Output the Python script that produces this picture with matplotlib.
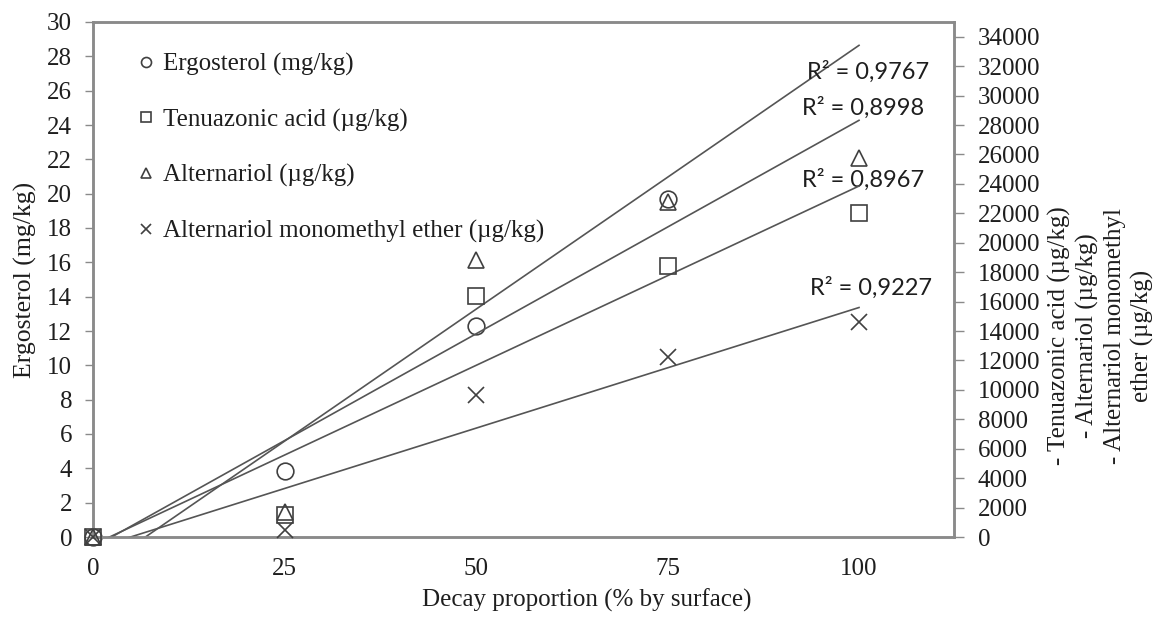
import numpy as np
import matplotlib
matplotlib.use("Agg")
import matplotlib.pyplot as plt

# ---- data ----
decay = [0, 25, 50, 75, 100]
ergosterol_mgkg = [0, 3.84, 12.3, 19.7, 30.5]           # left axis (last point is above the axis range)
tenuazonic_ugkg = [0, 1500, 16380, 18410, 22020]         # right axis
alternariol_ugkg = [0, 1700, 18820, 22760, 25750]        # right axis
ame_ugkg = [0, 470, 9650, 12250, 14610]                  # right axis

legend_labels = ["Ergosterol (mg/kg)", "Tenuazonic acid (\u00b5g/kg)",
                 "Alternariol (\u00b5g/kg)", "Alternariol monomethyl ether (\u00b5g/kg)"]
r2_labels = ["R\u00b2 = 0,9767", "R\u00b2 = 0,8998", "R\u00b2 = 0,8967", "R\u00b2 = 0,9227"]
x_ticks = [0, 25, 50, 75, 100]
left_ticks = list(range(0, 31, 2))
right_ticks = list(range(0, 34001, 2000))

SERIF = ["Liberation Serif", "DejaVu Serif"]
SANS = ["Lato", "DejaVu Sans"]
MK = "#404040"
LN = "#555555"
SP = "#8a8a8a"
TX = "#1e1e1e"
FS = 18

fig = plt.figure(figsize=(11.65, 6.17), dpi=100)
ax = fig.add_axes([93/1165, 1-537/617, (954-93)/1165, (537-22)/617])
ax2 = ax.twinx()

XMAX, LMAX, RMAX = 112.4, 30, 35000
ax.set_xlim(0, XMAX)
ax.set_ylim(0, LMAX)
ax2.set_ylim(0, RMAX)

x = np.array(decay, float)
xfit = np.array([0.0, 100.0])

def draw(axis, y, marker, ms, ymax, label):
    y = np.array(y, float)
    k, b = np.polyfit(x, y, 1)
    axis.plot(xfit, k*xfit + b, color=LN, lw=1.2, zorder=2)
    vis = y <= ymax
    h, = axis.plot(x[vis], y[vis], linestyle="none", marker=marker, ms=ms,
                   mfc="none", mec=MK, mew=1.2, clip_on=False, zorder=3, label=label)
    return h

h1 = draw(ax, ergosterol_mgkg, "o", 12, LMAX, legend_labels[0])
h2 = draw(ax2, tenuazonic_ugkg, "s", 11, RMAX, legend_labels[1])
h3 = draw(ax2, alternariol_ugkg, "^", 12, RMAX, legend_labels[2])
h4 = draw(ax2, ame_ugkg, "x", 12, RMAX, legend_labels[3])

# R^2 labels (positioned in left-axis data units)
r2_pos = [(101.2, 27.1), (100.5, 25.0), (100.5, 20.8), (101.5, 14.5)]
for (px, py), t in zip(r2_pos, r2_labels):
    ax.text(px, py, t, ha="center", va="center", fontsize=17, family=SANS, color=TX)

# axes styling
for a in (ax, ax2):
    for s in a.spines.values():
        s.set_color(SP)
        s.set_linewidth(1.8)
ax.set_xticks(x_ticks)
ax.set_yticks(left_ticks)
ax2.set_yticks(right_ticks)
ax.tick_params(axis="x", length=0, pad=15, labelsize=FS, colors=TX)
ax.tick_params(axis="y", length=6, width=1, color=SP, pad=9, labelsize=FS, labelcolor=TX)
ax2.tick_params(axis="y", length=7, width=1, color=SP, pad=10, labelsize=FS, labelcolor=TX)
for lab in ax.get_xticklabels() + ax.get_yticklabels() + ax2.get_yticklabels():
    lab.set_family(SERIF)

ax.set_xlabel("Decay proportion (% by surface)", fontsize=FS, family=SERIF, color=TX)
ax.xaxis.set_label_coords(0.574, -0.1)
ax.set_ylabel("Ergosterol (mg/kg)", fontsize=FS + 0.5, family=SERIF, color=TX, labelpad=7)

fig.text(1101/1165, 1-336/617,
         "- Tenuazonic acid (\u00b5g/kg)\n- Alternariol (\u00b5g/kg)\n- Alternariol monomethyl\nether (\u00b5g/kg)",
         rotation=90, ha="center", va="center", multialignment="center",
         fontsize=FS, family=SERIF, color=TX, linespacing=1.3)

leg = ax.legend(handles=[h1, h2, h3, h4], loc="upper left", bbox_to_anchor=(0.054, 0.94),
                frameon=False, handlelength=0.5, handletextpad=0.45, labelspacing=1.3,
                borderaxespad=0, borderpad=0, markerscale=0.6,
                prop={"family": SERIF, "size": FS})
for t in leg.get_texts():
    t.set_color(TX)

fig.savefig("out.png", dpi=100)
